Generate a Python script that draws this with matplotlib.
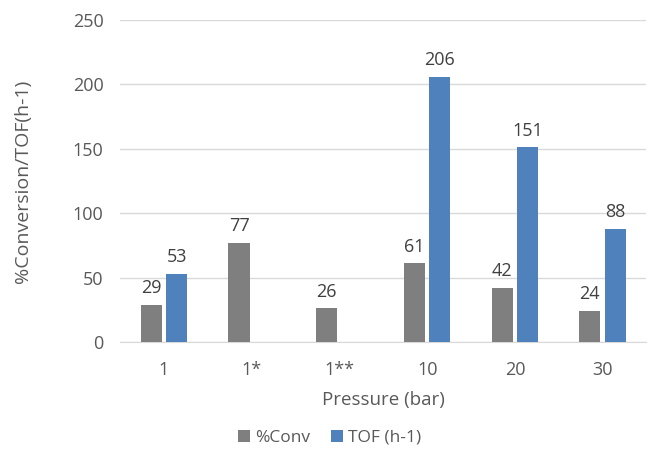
import matplotlib.pyplot as plt
import numpy as np

categories = ["1", "1*", "1**", "10", "20", "30"]
conv = [29, 77, 26, 61, 42, 24]
tof = [53, np.nan, np.nan, 206, 151, 88]

plt.rcParams['font.family'] = ['Open Sans', 'DejaVu Sans']
txt = "#595959"

fig = plt.figure(figsize=(6.53, 4.5), dpi=100)
ax = fig.add_axes([0.184, 0.24, 0.806, 0.716])

x = np.arange(len(categories))
w = 0.24
off = 0.145
b1 = ax.bar(x - off, conv, w, color="#7f7f7f", label="%Conv", zorder=3)
b2 = ax.bar(x + off, tof, w, color="#4f81bd", label="TOF (h-1)", zorder=3)

# value labels above each bar (skip the missing TOF values)
for bars, vals in ((b1, conv), (b2, tof)):
    for rect, v in zip(bars, vals):
        if np.isnan(v):
            continue
        ax.text(rect.get_x() + rect.get_width() / 2, v + 6, "%d" % v,
                ha="center", va="bottom", fontsize=13, color="#404040")

ax.set_ylim(0, 250)
ax.set_xlim(-0.5, len(categories) - 0.5)
ax.set_yticks(range(0, 251, 50))
ax.set_xticks(x)
ax.set_xticklabels(categories)
ax.grid(axis="y", color="#d9d9d9", linewidth=1, zorder=0)
for s in ["top", "right", "left"]:
    ax.spines[s].set_visible(False)
ax.spines["bottom"].set_color("#d9d9d9")
ax.tick_params(axis="y", length=0, labelsize=13, labelcolor=txt, pad=12)
ax.tick_params(axis="x", length=0, labelsize=13, labelcolor=txt, pad=14)
ax.set_xlabel("Pressure (bar)", fontsize=13.5, color=txt, labelpad=8)
ax.set_ylabel("%Conversion/TOF(h-1)", fontsize=14, color=txt, labelpad=29)

fig.legend(handles=[b1, b2], loc="center", bbox_to_anchor=(0.505, 0.027),
           ncol=2, frameon=False, fontsize=12.5, labelcolor=txt,
           handlelength=0.7, handleheight=0.7, handletextpad=0.3, columnspacing=1.2)

fig.savefig("out.png", dpi=100)
